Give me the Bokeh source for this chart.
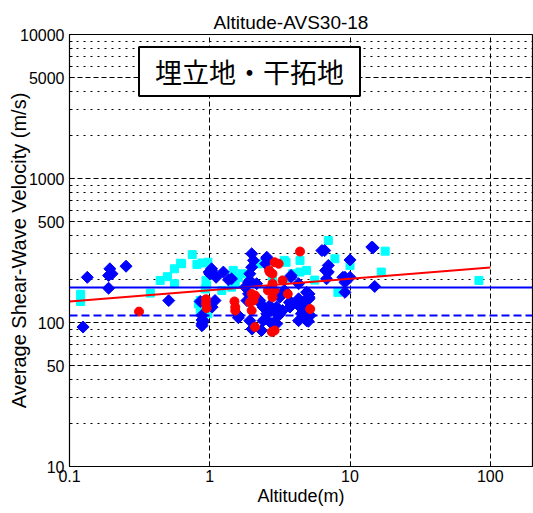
import numpy as np
from bokeh.plotting import figure
from bokeh.models import FixedTicker, CustomJSTickFormatter, Label, Span
from bokeh.embed import file_html
from bokeh.resources import INLINE

# ---- data ----
blue_x = [0.134, 0.125, 0.194, 0.201, 0.19, 0.19, 0.253, 0.51,
          0.88, 0.88, 0.855, 0.99, 1.03, 1.0, 1.11, 1.25, 1.36, 1.09, 1.04,
          1.99, 2.05, 1.99, 1.93, 1.93, 2.55, 2.5, 1.79, 1.89, 2.27, 2.4, 1.6,
          2.5, 2.34, 2.77, 2.77,
          6.6, 7.0, 7.0, 6.8, 3.8, 4.9, 5.1, 3.8, 4.3, 4.8, 4.8, 4.5, 4.9, 4.3,
          2.9, 2.68, 3.1, 3.4, 5.05, 3.0,
          14.6, 15.0, 10.0, 9.2, 10.0, 9.2, 9.2,
          6.3, 14.3, 6.7, 8.9, 3.8, 4.3, 5.1, 4.3, 3.7, 5.1, 4.8, 5.2, 3.3,
          2.55, 1.43, 1.03, 1.89, 2.16, 1.84, 2.27, 2.68, 3.0, 3.16, 2.55, 2.4,
          1.6, 1.93, 2.0, 2.9, 0.9, 0.88, 0.88, 3.16, 3.73]
blue_y = [206, 93, 236, 218, 212, 173, 246, 142,
          104, 98, 140, 224, 236, 218, 206, 224, 198, 142, 128,
          300, 270, 242, 218, 196, 284, 256, 176, 158, 138, 128, 112,
          106, 88, 121, 98,
          316, 249, 224, 201, 206, 162, 150, 138, 131, 142, 121, 115, 103, 103,
          101, 131, 112, 167, 102, 98,
          330, 178, 272, 206, 206, 190, 162,
          316, 334, 230, 206, 212, 186, 158, 146, 138, 146, 124, 112, 121,
          277, 201, 230, 190, 186, 142, 142, 121, 128, 115, 115, 103,
          108, 103, 90, 98, 103, 112, 95, 150, 128]

cyan_x = [0.12, 0.12, 0.377, 0.443, 0.5, 0.56, 0.56, 0.62, 0.75, 0.81, 0.88,
          0.94, 0.855, 0.855, 0.97, 0.855, 0.93, 0.97, 1.43, 1.6, 2.22, 2.8,
          7.0, 7.8, 10.0, 17.8, 16.7, 83.0, 8.2, 4.4, 4.4, 4.9, 3.4, 3.9, 5.6,
          2.2, 0.63, 0.95, 1.47, 1.7, 3.5, 0.83, 1.22, 1.52, 3.4]
cyan_y = [157, 140, 160, 196, 208, 236, 186, 258, 296, 253, 259,
          196, 131, 121, 262, 142, 171, 115, 176, 206, 256, 196,
          371, 277, 249, 313, 224, 196, 162, 270, 224, 230, 270, 218, 197,
          256, 256, 180, 230, 218, 262, 135, 167, 186, 196]

red_x = [0.313, 0.94, 0.94, 0.95, 1.5, 1.52, 1.52, 1.93, 1.99, 1.99, 1.99,
         2.1, 2.68, 2.8, 2.77, 4.4, 2.9, 3.1, 2.65, 3.3, 2.6, 2.8, 3.6, 5.2,
         2.8, 2.9, 2.05, 2.1, 2.9]
red_y = [119, 145, 135, 126, 140, 128, 121, 138, 158, 142, 121,
         93, 224, 218, 86, 311, 262, 256, 230, 196, 167, 150, 158, 124,
         186, 88, 142, 154, 167]

mean_velocity = 175
lower_velocity = 112
fit_x = [0.1, 100]
fit_y = [140, 241]

x_ticks = [0.1, 1, 10, 100]
y_ticks = [10, 50, 100, 500, 1000, 5000, 10000]
y_minor = [20, 30, 40, 60, 70, 80, 90, 200, 300, 400, 600, 700, 800, 900,
           2000, 3000, 4000, 6000, 7000, 8000, 9000]

FONT = "Liberation Sans"

p = figure(x_axis_type="log", y_axis_type="log",
           x_range=(0.1, 200), y_range=(10, 10000),
           frame_width=463, frame_height=432,
           min_border_left=69, min_border_right=1,
           min_border_top=34, min_border_bottom=47,
           title="Altitude-AVS30-18",
           x_axis_label="Altitude(m)",
           y_axis_label="Average Shear-Wave Velocity (m/s)",
           output_backend="svg", toolbar_location=None)

p.title.align = "left"
p.title.offset = 144
p.title.text_font = FONT
p.title.text_font_size = "19px"
p.title.text_font_style = "normal"
p.title.text_color = "black"
p.title.standoff = 4

p.outline_line_color = "black"
p.outline_line_width = 1.2
p.background_fill_color = "white"
p.border_fill_color = "white"

# axes
p.xaxis.ticker = FixedTicker(ticks=x_ticks, minor_ticks=[])
p.yaxis.ticker = FixedTicker(ticks=y_ticks, minor_ticks=y_minor)
fmt = "return tick.toString();"
p.xaxis.formatter = CustomJSTickFormatter(code=fmt)
p.yaxis.formatter = CustomJSTickFormatter(code=fmt)
for ax in (p.xaxis[0], p.yaxis[0]):
    ax.major_label_text_font = FONT
    ax.major_label_text_font_size = "16px"
    ax.major_label_text_color = "black"
    ax.axis_label_text_font = FONT
    ax.axis_label_text_font_style = "normal"
    ax.axis_label_text_color = "black"
    ax.axis_line_color = "black"
    ax.major_tick_in = 5
    ax.major_tick_out = 0
    ax.minor_tick_in = 3
    ax.minor_tick_out = 0
    ax.major_tick_line_color = "black"
    ax.minor_tick_line_color = "black"
p.yaxis.major_label_standoff = 5
p.xaxis.major_label_standoff = 3
p.xaxis.axis_label_text_font_size = "18px"
p.xaxis.axis_label_standoff = 1
p.yaxis.axis_label_text_font_size = "20px"
p.yaxis.axis_label_standoff = -13

# grids
p.xgrid.grid_line_color = "black"
p.xgrid.grid_line_dash = "5 3"
p.xgrid.grid_line_width = 1
p.ygrid.grid_line_color = "black"
p.ygrid.grid_line_dash = "5 3"
p.ygrid.grid_line_width = 1
p.ygrid.minor_grid_line_color = "black"
p.ygrid.minor_grid_line_dash = "2 5"
p.ygrid.minor_grid_line_width = 1

# points
p.scatter(cyan_x, cyan_y, marker="square", size=8, fill_color="#00FFFF",
          line_color="#00FFFF")
p.scatter(blue_x, blue_y, marker="square", angle=np.pi / 4, size=8.5,
          fill_color="#0000FF", line_color="#0000FF")
p.scatter(red_x, red_y, marker="circle", size=9, fill_color="#FF0000",
          line_color="#FF0000")

# lines
p.add_layout(Span(location=mean_velocity, dimension="width",
                  line_color="#0000FF", line_width=2))
p.add_layout(Span(location=lower_velocity, dimension="width",
                  line_color="#0000FF", line_width=2, line_dash="8 4"))
p.line(fit_x, fit_y, line_color="#FF0000", line_width=2)

# boxed annotation
p.add_layout(Label(x=180, y=395, x_units="screen", y_units="screen",
                   text="埋立地・干拓地", text_font="Noto Sans CJK JP",
                   text_font_size="27px", text_align="center",
                   text_baseline="middle", text_color="black",
                   background_fill_color="white",
                   border_line_color="black", border_line_width=2,
                   padding=(16, 5)))

open("out.html", "w").write(file_html(p, INLINE))
